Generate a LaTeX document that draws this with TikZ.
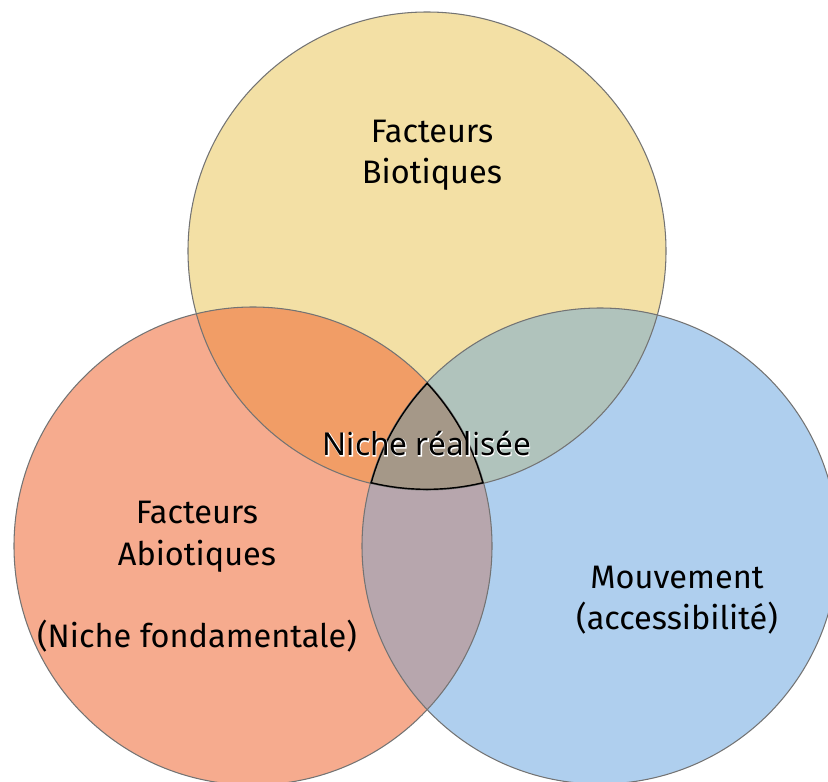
\documentclass[tikz,border=0pt]{standalone}
\usepackage{fontspec}
\setmainfont{Fira Sans}
\newfontfamily\halofont{Noto Sans}
\newfontfamily\haloglow{Noto Sans}[FakeBold=4]
\usetikzlibrary{positioning}

\definecolor{bioyellow}{HTML}{F3E0A5}
\definecolor{abiored}{HTML}{F6AB8E}
\definecolor{mouvblue}{HTML}{AFCFEE}
\definecolor{bioabio}{HTML}{F19D66}
\definecolor{biomouv}{HTML}{B0C3BC}
\definecolor{abiomouv}{HTML}{B7A6AD}
\definecolor{allthree}{HTML}{A59888}

\newcommand{\biocircle}{(427,251) circle (239)}
\newcommand{\abiocircle}{(253,546) circle (239)}
\newcommand{\mouvcircle}{(600,546) circle (238)}

\begin{document}
\begin{tikzpicture}[x=0.02cm,y=-0.02cm,
    label/.style={align=center,font=\fontsize{18.5}{23.5}\selectfont},
    rim/.style={draw=black!55,line width=0.6pt}]
    \useasboundingbox (0,0) rectangle (828,781);
    \clip (0,0) rectangle (828,781);

    % single circles
    \fill[bioyellow] \biocircle;
    \fill[abiored] \abiocircle;
    \fill[mouvblue] \mouvcircle;

    % overlaps
    \begin{scope}
        \clip \biocircle;
        \fill[bioabio] \abiocircle;
        \fill[biomouv] \mouvcircle;
    \end{scope}
    \begin{scope}
        \clip \abiocircle;
        \fill[abiomouv] \mouvcircle;
    \end{scope}
    \begin{scope}
        \clip \biocircle;
        \clip \abiocircle;
        \fill[allthree] \mouvcircle;
    \end{scope}

    % outlines
    \draw[rim] \biocircle;
    \draw[rim] \abiocircle;
    \draw[rim] \mouvcircle;
    \begin{scope}
        \clip \biocircle;
        \clip \abiocircle;
        \clip \mouvcircle;
        \draw[black,line width=1.6pt] \biocircle;
        \draw[black,line width=1.6pt] \abiocircle;
        \draw[black,line width=1.6pt] \mouvcircle;
    \end{scope}

    % labels
    \node[label] (bio) at (432,155) {Facteurs\\Biotiques};
    \node[label] (abio) at (197,577) {Facteurs\\Abiotiques\\~\\(Niche fondamentale)};
    \node[label] (mouv) at (677,600) {Mouvement\\(accessibilité)};
    \node[text=white,font=\haloglow\fontsize{18}{22}\selectfont] (realglow) at (427,444) {Niche réalisée};
    \node[font=\halofont\fontsize{18}{22}\selectfont] (real) at (427,444) {Niche réalisée};
\end{tikzpicture}
\end{document}
